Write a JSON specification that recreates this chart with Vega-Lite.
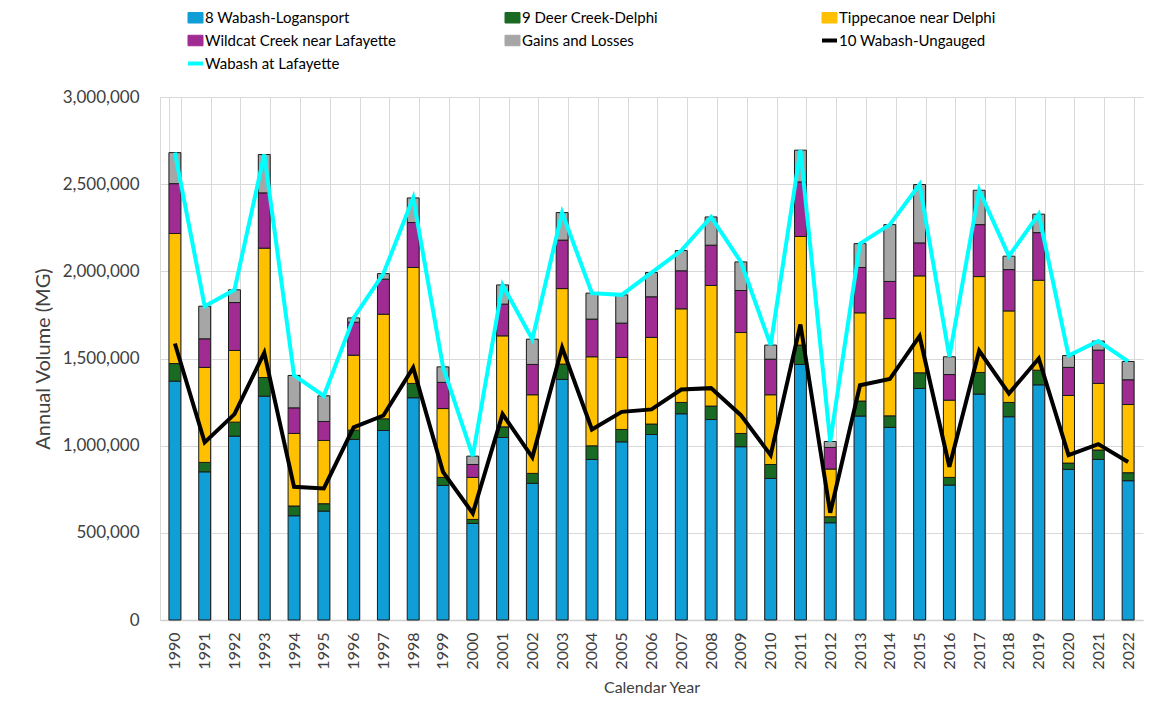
{
  "$schema": "https://vega.github.io/schema/vega-lite/v6.json",
  "width": 983,
  "height": 523,
  "autosize": {"type": "none"},
  "padding": {"left": 160, "top": 97, "right": 19, "bottom": 81},
  "background": "white",
  "config": {
    "view": {"stroke": null},
    "font": "Lato",
    "axis": {"labelFont": "Lato", "titleFont": "Lato", "labelColor": "#404040", "titleColor": "#404040", "titleFontWeight": "normal"}
  },
  "data": {
    "values": [
      {"Year": "1990", "8 Wabash-Logansport": 1370000, "9 Deer Creek-Delphi": 101000, "Tippecanoe near Delphi": 746000, "Wildcat Creek near Lafayette": 286000, "Gains and Losses": 178000, "10 Wabash-Ungauged": 1586000, "Wabash at Lafayette": 2681000},
      {"Year": "1991", "8 Wabash-Logansport": 850000, "9 Deer Creek-Delphi": 54000, "Tippecanoe near Delphi": 545000, "Wildcat Creek near Lafayette": 164000, "Gains and Losses": 187000, "10 Wabash-Ungauged": 1019000, "Wabash at Lafayette": 1800000},
      {"Year": "1992", "8 Wabash-Logansport": 1055000, "9 Deer Creek-Delphi": 80000, "Tippecanoe near Delphi": 411000, "Wildcat Creek near Lafayette": 275000, "Gains and Losses": 73000, "10 Wabash-Ungauged": 1181000, "Wabash at Lafayette": 1894000},
      {"Year": "1993", "8 Wabash-Logansport": 1284000, "9 Deer Creek-Delphi": 107000, "Tippecanoe near Delphi": 742000, "Wildcat Creek near Lafayette": 317000, "Gains and Losses": 220000, "10 Wabash-Ungauged": 1533000, "Wabash at Lafayette": 2670000},
      {"Year": "1994", "8 Wabash-Logansport": 598000, "9 Deer Creek-Delphi": 56000, "Tippecanoe near Delphi": 416000, "Wildcat Creek near Lafayette": 147000, "Gains and Losses": 186000, "10 Wabash-Ungauged": 764000, "Wabash at Lafayette": 1403000},
      {"Year": "1995", "8 Wabash-Logansport": 625000, "9 Deer Creek-Delphi": 42000, "Tippecanoe near Delphi": 363000, "Wildcat Creek near Lafayette": 109000, "Gains and Losses": 147000, "10 Wabash-Ungauged": 755000, "Wabash at Lafayette": 1286000},
      {"Year": "1996", "8 Wabash-Logansport": 1036000, "9 Deer Creek-Delphi": 53000, "Tippecanoe near Delphi": 430000, "Wildcat Creek near Lafayette": 189000, "Gains and Losses": 25000, "10 Wabash-Ungauged": 1105000, "Wabash at Lafayette": 1733000},
      {"Year": "1997", "8 Wabash-Logansport": 1087000, "9 Deer Creek-Delphi": 67000, "Tippecanoe near Delphi": 600000, "Wildcat Creek near Lafayette": 201000, "Gains and Losses": 32000, "10 Wabash-Ungauged": 1173000, "Wabash at Lafayette": 1987000},
      {"Year": "1998", "8 Wabash-Logansport": 1275000, "9 Deer Creek-Delphi": 82000, "Tippecanoe near Delphi": 665000, "Wildcat Creek near Lafayette": 258000, "Gains and Losses": 141000, "10 Wabash-Ungauged": 1447000, "Wabash at Lafayette": 2421000},
      {"Year": "1999", "8 Wabash-Logansport": 772000, "9 Deer Creek-Delphi": 46000, "Tippecanoe near Delphi": 395000, "Wildcat Creek near Lafayette": 150000, "Gains and Losses": 89000, "10 Wabash-Ungauged": 850000, "Wabash at Lafayette": 1452000},
      {"Year": "2000", "8 Wabash-Logansport": 554000, "9 Deer Creek-Delphi": 23000, "Tippecanoe near Delphi": 241000, "Wildcat Creek near Lafayette": 74000, "Gains and Losses": 48000, "10 Wabash-Ungauged": 612000, "Wabash at Lafayette": 940000},
      {"Year": "2001", "8 Wabash-Logansport": 1047000, "9 Deer Creek-Delphi": 61000, "Tippecanoe near Delphi": 522000, "Wildcat Creek near Lafayette": 182000, "Gains and Losses": 110000, "10 Wabash-Ungauged": 1181000, "Wabash at Lafayette": 1922000},
      {"Year": "2002", "8 Wabash-Logansport": 784000, "9 Deer Creek-Delphi": 57000, "Tippecanoe near Delphi": 451000, "Wildcat Creek near Lafayette": 174000, "Gains and Losses": 145000, "10 Wabash-Ungauged": 933000, "Wabash at Lafayette": 1611000},
      {"Year": "2003", "8 Wabash-Logansport": 1380000, "9 Deer Creek-Delphi": 88000, "Tippecanoe near Delphi": 433000, "Wildcat Creek near Lafayette": 278000, "Gains and Losses": 158000, "10 Wabash-Ungauged": 1563000, "Wabash at Lafayette": 2337000},
      {"Year": "2004", "8 Wabash-Logansport": 921000, "9 Deer Creek-Delphi": 78000, "Tippecanoe near Delphi": 511000, "Wildcat Creek near Lafayette": 216000, "Gains and Losses": 149000, "10 Wabash-Ungauged": 1093000, "Wabash at Lafayette": 1875000},
      {"Year": "2005", "8 Wabash-Logansport": 1022000, "9 Deer Creek-Delphi": 71000, "Tippecanoe near Delphi": 413000, "Wildcat Creek near Lafayette": 197000, "Gains and Losses": 162000, "10 Wabash-Ungauged": 1194000, "Wabash at Lafayette": 1865000},
      {"Year": "2006", "8 Wabash-Logansport": 1064000, "9 Deer Creek-Delphi": 60000, "Tippecanoe near Delphi": 497000, "Wildcat Creek near Lafayette": 233000, "Gains and Losses": 139000, "10 Wabash-Ungauged": 1208000, "Wabash at Lafayette": 1993000},
      {"Year": "2007", "8 Wabash-Logansport": 1183000, "9 Deer Creek-Delphi": 65000, "Tippecanoe near Delphi": 537000, "Wildcat Creek near Lafayette": 218000, "Gains and Losses": 116000, "10 Wabash-Ungauged": 1322000, "Wabash at Lafayette": 2119000},
      {"Year": "2008", "8 Wabash-Logansport": 1150000, "9 Deer Creek-Delphi": 77000, "Tippecanoe near Delphi": 692000, "Wildcat Creek near Lafayette": 231000, "Gains and Losses": 162000, "10 Wabash-Ungauged": 1330000, "Wabash at Lafayette": 2312000},
      {"Year": "2009", "8 Wabash-Logansport": 994000, "9 Deer Creek-Delphi": 76000, "Tippecanoe near Delphi": 579000, "Wildcat Creek near Lafayette": 241000, "Gains and Losses": 164000, "10 Wabash-Ungauged": 1175000, "Wabash at Lafayette": 2054000},
      {"Year": "2010", "8 Wabash-Logansport": 812000, "9 Deer Creek-Delphi": 80000, "Tippecanoe near Delphi": 400000, "Wildcat Creek near Lafayette": 204000, "Gains and Losses": 81000, "10 Wabash-Ungauged": 946000, "Wabash at Lafayette": 1577000},
      {"Year": "2011", "8 Wabash-Logansport": 1466000, "9 Deer Creek-Delphi": 111000, "Tippecanoe near Delphi": 623000, "Wildcat Creek near Lafayette": 313000, "Gains and Losses": 182000, "10 Wabash-Ungauged": 1695000, "Wabash at Lafayette": 2695000},
      {"Year": "2012", "8 Wabash-Logansport": 558000, "9 Deer Creek-Delphi": 34000, "Tippecanoe near Delphi": 274000, "Wildcat Creek near Lafayette": 124000, "Gains and Losses": 34000, "10 Wabash-Ungauged": 615000, "Wabash at Lafayette": 1024000},
      {"Year": "2013", "8 Wabash-Logansport": 1170000, "9 Deer Creek-Delphi": 86000, "Tippecanoe near Delphi": 506000, "Wildcat Creek near Lafayette": 260000, "Gains and Losses": 137000, "10 Wabash-Ungauged": 1347000, "Wabash at Lafayette": 2159000},
      {"Year": "2014", "8 Wabash-Logansport": 1105000, "9 Deer Creek-Delphi": 66000, "Tippecanoe near Delphi": 558000, "Wildcat Creek near Lafayette": 213000, "Gains and Losses": 326000, "10 Wabash-Ungauged": 1382000, "Wabash at Lafayette": 2268000},
      {"Year": "2015", "8 Wabash-Logansport": 1328000, "9 Deer Creek-Delphi": 90000, "Tippecanoe near Delphi": 556000, "Wildcat Creek near Lafayette": 189000, "Gains and Losses": 335000, "10 Wabash-Ungauged": 1628000, "Wabash at Lafayette": 2498000},
      {"Year": "2016", "8 Wabash-Logansport": 774000, "9 Deer Creek-Delphi": 44000, "Tippecanoe near Delphi": 443000, "Wildcat Creek near Lafayette": 147000, "Gains and Losses": 102000, "10 Wabash-Ungauged": 879000, "Wabash at Lafayette": 1510000},
      {"Year": "2017", "8 Wabash-Logansport": 1296000, "9 Deer Creek-Delphi": 124000, "Tippecanoe near Delphi": 550000, "Wildcat Creek near Lafayette": 298000, "Gains and Losses": 197000, "10 Wabash-Ungauged": 1544000, "Wabash at Lafayette": 2465000},
      {"Year": "2018", "8 Wabash-Logansport": 1166000, "9 Deer Creek-Delphi": 82000, "Tippecanoe near Delphi": 525000, "Wildcat Creek near Lafayette": 237000, "Gains and Losses": 77000, "10 Wabash-Ungauged": 1299000, "Wabash at Lafayette": 2087000},
      {"Year": "2019", "8 Wabash-Logansport": 1349000, "9 Deer Creek-Delphi": 84000, "Tippecanoe near Delphi": 516000, "Wildcat Creek near Lafayette": 273000, "Gains and Losses": 106000, "10 Wabash-Ungauged": 1500000, "Wabash at Lafayette": 2328000},
      {"Year": "2020", "8 Wabash-Logansport": 864000, "9 Deer Creek-Delphi": 36000, "Tippecanoe near Delphi": 388000, "Wildcat Creek near Lafayette": 161000, "Gains and Losses": 68000, "10 Wabash-Ungauged": 946000, "Wabash at Lafayette": 1517000},
      {"Year": "2021", "8 Wabash-Logansport": 921000, "9 Deer Creek-Delphi": 54000, "Tippecanoe near Delphi": 382000, "Wildcat Creek near Lafayette": 191000, "Gains and Losses": 52000, "10 Wabash-Ungauged": 1009000, "Wabash at Lafayette": 1600000},
      {"Year": "2022", "8 Wabash-Logansport": 799000, "9 Deer Creek-Delphi": 46000, "Tippecanoe near Delphi": 391000, "Wildcat Creek near Lafayette": 142000, "Gains and Losses": 105000, "10 Wabash-Ungauged": 906000, "Wabash at Lafayette": 1483000}
    ]
  },
  "encoding": {
    "x": {
      "field": "Year", "type": "ordinal",
      "scale": {"paddingInner": 0.6, "paddingOuter": 0.3},
      "axis": {
        "title": "Calendar Year", "titleFontSize": 16, "titlePadding": 10,
        "labelAngle": -90, "labelFontSize": 16, "labelPadding": 12,
        "tickBand": "extent", "ticks": false, "grid": true, "gridColor": "#d9d9d9", "gridWidth": 1,
        "domainColor": "#d0d0d0", "domainWidth": 1.5
      }
    }
  },
  "layer": [
    {
      "transform": [
        {"fold": ["8 Wabash-Logansport", "9 Deer Creek-Delphi", "Tippecanoe near Delphi", "Wildcat Creek near Lafayette", "Gains and Losses"], "as": ["Series", "Volume"]}
      ],
      "mark": {"type": "bar", "stroke": "#1a1a1a", "strokeWidth": 1},
      "encoding": {
        "y": {
          "field": "Volume", "type": "quantitative", "stack": "zero",
          "scale": {"domain": [0, 3000000]},
          "axis": {
            "title": "Annual Volume (MG)", "titleFontSize": 20, "titlePadding": 9,
            "values": [0, 500000, 1000000, 1500000, 2000000, 2500000, 3000000],
            "format": ",d", "labelFontSize": 17, "labelPadding": 21, "ticks": false,
            "domain": true, "domainColor": "#d9d9d9", "grid": true, "gridColor": "#d9d9d9"
          }
        },
        "order": {"field": "Year", "type": "ordinal"},
        "color": {
          "field": "Series", "type": "nominal",
          "sort": ["8 Wabash-Logansport", "9 Deer Creek-Delphi", "Tippecanoe near Delphi", "Wildcat Creek near Lafayette", "Gains and Losses", "10 Wabash-Ungauged", "Wabash at Lafayette"],
          "scale": {
            "domain": ["8 Wabash-Logansport", "9 Deer Creek-Delphi", "Tippecanoe near Delphi", "Wildcat Creek near Lafayette", "Gains and Losses", "10 Wabash-Ungauged", "Wabash at Lafayette"],
            "range": ["#0f9ed5", "#196b24", "#ffc000", "#a02b93", "#a6a6a6", "#000000", "#00ffff"]
          },
          "legend": {
            "orient": "none", "legendX": 28, "legendY": -87, "direction": "horizontal", "columns": 3,
            "title": null, "padding": 0, "labelFont": "Lato", "labelFontSize": 15, "labelColor": "#000000",
            "labelOffset": 2, "symbolSize": 225, "rowPadding": 6, "columnPadding": 100, "gridAlign": "all",
            "labelLimit": 400,
            "symbolOpacity": 1,
            "symbolType": {"expr": "datum.value == '10 Wabash-Ungauged' || datum.value == 'Wabash at Lafayette' ? 'stroke' : 'M-1,-0.7H1V0.7H-1Z'"},
            "symbolStrokeColor": {"expr": "datum.value == 'Wabash at Lafayette' ? '#00ffff' : (datum.value == '10 Wabash-Ungauged' ? '#000000' : '#1a1a1a')"},
            "symbolStrokeWidth": {"expr": "datum.value == '10 Wabash-Ungauged' || datum.value == 'Wabash at Lafayette' ? 4 : 1"}
          }
        }
      }
    },
    {
      "transform": [
        {"fold": ["10 Wabash-Ungauged", "Wabash at Lafayette"], "as": ["Series", "Volume"]}
      ],
      "mark": {"type": "line", "strokeWidth": 4, "strokeJoin": "miter"},
      "encoding": {
        "y": {"field": "Volume", "type": "quantitative"},
        "color": {"field": "Series", "type": "nominal", "legend": null}
      }
    }
  ]
}
